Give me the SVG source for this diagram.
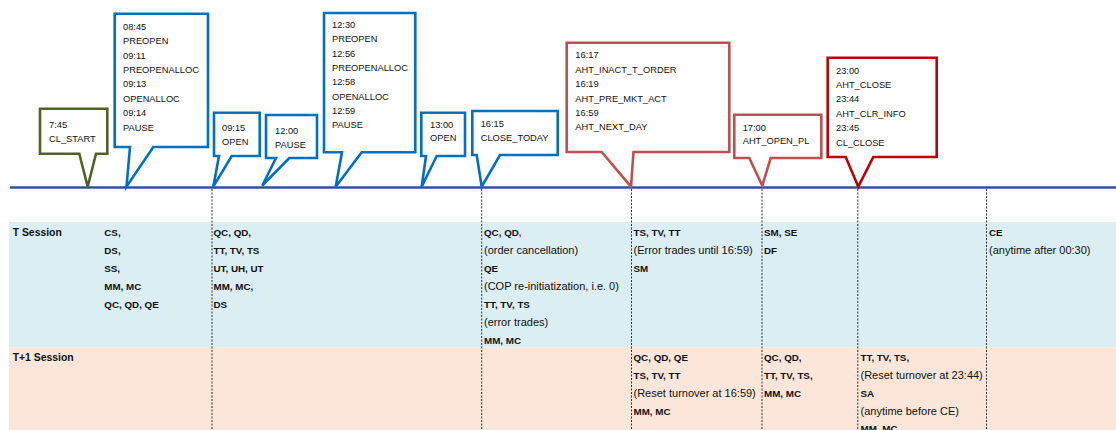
<svg xmlns="http://www.w3.org/2000/svg" width="1116" height="430" viewBox="0 0 1116 430">
<style>
.co{fill:#fff;stroke-width:2.6;stroke-linejoin:miter}
.blue{stroke:#0070C0}.green{stroke:#4F6228}.lred{stroke:#C0504D}.dred{stroke:#C00000}
.ct{font-family:"Liberation Sans",Arial,sans-serif;font-size:9.3px;fill:#111}
.b{font-family:"Liberation Sans",Arial,sans-serif;font-size:9.8px;font-weight:bold;fill:#111}
.n{font-family:"Liberation Sans",Arial,sans-serif;font-size:11px;fill:#111}
.h{font-family:"Liberation Sans",Arial,sans-serif;font-size:10.4px;font-weight:bold;fill:#111}
.dash{stroke:#333;stroke-width:1;stroke-dasharray:2,1.5}
</style>
<rect x="0" y="0" width="1116" height="430" fill="#fff"/>
<g id="bands">
<rect x="9" y="222" width="1107" height="125.5" fill="#DAEEF3"/>
<rect x="9" y="347.5" width="1107" height="82.5" fill="#FBE6D9"/>
</g>
<g id="connectors">
<line x1="10" y1="187.5" x2="1116" y2="187.5" stroke="#2F5496" stroke-width="2.6"/>
<line class="dash" x1="212" y1="189" x2="212" y2="430"/>
<line class="dash" x1="481.7" y1="189" x2="481.7" y2="430"/>
<line class="dash" x1="631.5" y1="189" x2="631.5" y2="430"/>
<line class="dash" x1="762" y1="189" x2="762" y2="430"/>
<line class="dash" x1="857.8" y1="189" x2="857.8" y2="430"/>
<line class="dash" x1="986.5" y1="189" x2="986.5" y2="430"/>
</g>
<g id="c1">
<path class="co green" d="M40,108.7 H107.3 V153.7 H96 L87.7,186.7 L79.3,153.7 H40 Z"/>
<text class="ct" x="49" y="127.5">7:45</text>
<text class="ct" x="49" y="141.5">CL_START</text>
</g>
<g id="c2">
<path class="co blue" d="M114.7,13.7 H208 V147 H153.3 L126.5,186.7 L130,147 H114.7 Z"/>
<text class="ct" x="123" y="29.7">08:45</text>
<text class="ct" x="123" y="44.1">PREOPEN</text>
<text class="ct" x="123" y="58.5">09:11</text>
<text class="ct" x="123" y="72.9">PREOPENALLOC</text>
<text class="ct" x="123" y="87.3">09:13</text>
<text class="ct" x="123" y="101.7">OPENALLOC</text>
<text class="ct" x="123" y="116.1">09:14</text>
<text class="ct" x="123" y="130.5">PAUSE</text>
</g>
<g id="c3">
<path class="co blue" d="M214,112.7 H259.7 V156 H231.7 L213.3,186.7 L219,156 H214 Z"/>
<text class="ct" x="222" y="131.3">09:15</text>
<text class="ct" x="222" y="145.3">OPEN</text>
</g>
<g id="c4">
<path class="co blue" d="M266,115 H317 V158 H289.3 L262.3,185.5 L276,158 H266 Z"/>
<text class="ct" x="275" y="133.7">12:00</text>
<text class="ct" x="275" y="147.7">PAUSE</text>
</g>
<g id="c5">
<path class="co blue" d="M324,13 H415.3 V152.3 H361.7 L335.7,186.7 L342,152.3 H324 Z"/>
<text class="ct" x="332" y="28">12:30</text>
<text class="ct" x="332" y="42.3">PREOPEN</text>
<text class="ct" x="332" y="56.6">12:56</text>
<text class="ct" x="332" y="70.9">PREOPENALLOC</text>
<text class="ct" x="332" y="85.2">12:58</text>
<text class="ct" x="332" y="99.5">OPENALLOC</text>
<text class="ct" x="332" y="113.8">12:59</text>
<text class="ct" x="332" y="128.1">PAUSE</text>
</g>
<g id="c6">
<path class="co blue" d="M421.3,112.7 H465 V156 H436.7 L421.7,186.7 L426,156 H421.3 Z"/>
<text class="ct" x="430" y="127.5">13:00</text>
<text class="ct" x="430" y="141.3">OPEN</text>
</g>
<g id="c7">
<path class="co blue" d="M472.3,111 H557.7 V155 H500 L481.7,186.7 L476.7,155 H472.3 Z"/>
<text class="ct" x="480.7" y="126.5">16:15</text>
<text class="ct" x="480.7" y="140.5">CLOSE_TODAY</text>
</g>
<g id="c8">
<path class="co lred" d="M566.7,42.7 H729.3 V152 H633.5 L631,186.7 L601.7,152 H566.7 Z"/>
<text class="ct" x="575.3" y="58.3">16:17</text>
<text class="ct" x="575.3" y="72.8">AHT_INACT_T_ORDER</text>
<text class="ct" x="575.3" y="87">16:19</text>
<text class="ct" x="575.3" y="101.8">AHT_PRE_MKT_ACT</text>
<text class="ct" x="575.3" y="116">16:59</text>
<text class="ct" x="575.3" y="130.3">AHT_NEXT_DAY</text>
</g>
<g id="c9">
<path class="co lred" d="M734.3,114.7 H821.3 V158 H770.7 L762.3,185.7 L749.3,158 H734.3 Z"/>
<text class="ct" x="742.7" y="130.8">17:00</text>
<text class="ct" x="742.7" y="144.3">AHT_OPEN_PL</text>
</g>
<g id="c10">
<path class="co dred" d="M827.7,57.7 H936.7 V157 H873.3 L858.3,186.7 L845.7,157 H827.7 Z"/>
<text class="ct" x="836" y="73.6">23:00</text>
<text class="ct" x="836" y="87.9">AHT_CLOSE</text>
<text class="ct" x="836" y="102.2">23:44</text>
<text class="ct" x="836" y="116.5">AHT_CLR_INFO</text>
<text class="ct" x="836" y="131">23:45</text>
<text class="ct" x="836" y="145.5">CL_CLOSE</text>
</g>
<g id="labels">
<text class="h" x="12.7" y="236.3">T Session</text>
<text class="h" x="12.7" y="360.8">T+1 Session</text>
</g>
<g id="col1">
<text class="b" x="104.3" y="236.3">CS,</text>
<text class="b" x="104.3" y="254.2">DS,</text>
<text class="b" x="104.3" y="272.1">SS,</text>
<text class="b" x="104.3" y="290">MM, MC</text>
<text class="b" x="104.3" y="307.9">QC, QD, QE</text>
</g>
<g id="col2">
<text class="b" x="213.5" y="236.3">QC, QD,</text>
<text class="b" x="213.5" y="254.2">TT, TV, TS</text>
<text class="b" x="213.5" y="272.1">UT, UH, UT</text>
<text class="b" x="213.5" y="290">MM, MC,</text>
<text class="b" x="213.5" y="307.9">DS</text>
</g>
<g id="col3">
<text class="b" x="484" y="236.3">QC, QD<tspan fill="#E00000">,</tspan></text>
<text class="n" x="484" y="254.2">(order cancellation)</text>
<text class="b" x="484" y="272.1">QE</text>
<text class="n" x="484" y="290">(COP re-initiatization, i.e. 0)</text>
<text class="b" x="484" y="307.9">TT, TV, TS</text>
<text class="n" x="484" y="325.8">(error trades)</text>
<text class="b" x="484" y="343.7">MM, MC</text>
</g>
<g id="col4">
<text class="b" x="633.5" y="236.3">TS, TV, TT</text>
<text class="n" x="633.5" y="254.2">(Error trades until 16:59)</text>
<text class="b" x="633.5" y="272.1">SM</text>
<text class="b" x="633.5" y="360.8">QC, QD, QE</text>
<text class="b" x="633.5" y="378.7">TS, TV, TT</text>
<text class="n" x="633.5" y="396.6">(Reset turnover at 16:59)</text>
<text class="b" x="633.5" y="414.5">MM, MC</text>
</g>
<g id="col5">
<text class="b" x="764" y="236.3">SM, SE</text>
<text class="b" x="764" y="254.2">DF</text>
<text class="b" x="764" y="360.8">QC, QD,</text>
<text class="b" x="764" y="378.7">TT, TV, TS,</text>
<text class="b" x="764" y="396.6">MM, MC</text>
</g>
<g id="col6">
<text class="b" x="860.5" y="360.8">TT, TV, TS,</text>
<text class="n" x="860.5" y="378.7">(Reset turnover at 23:44)</text>
<text class="b" x="860.5" y="396.6">SA</text>
<text class="n" x="860.5" y="414.5">(anytime before CE)</text>
<text class="b" x="860.5" y="432.4">MM, MC</text>
</g>
<g id="col7">
<text class="b" x="989" y="236.3">CE</text>
<text class="n" x="989" y="254.2">(anytime after 00:30)</text>
</g>
</svg>
